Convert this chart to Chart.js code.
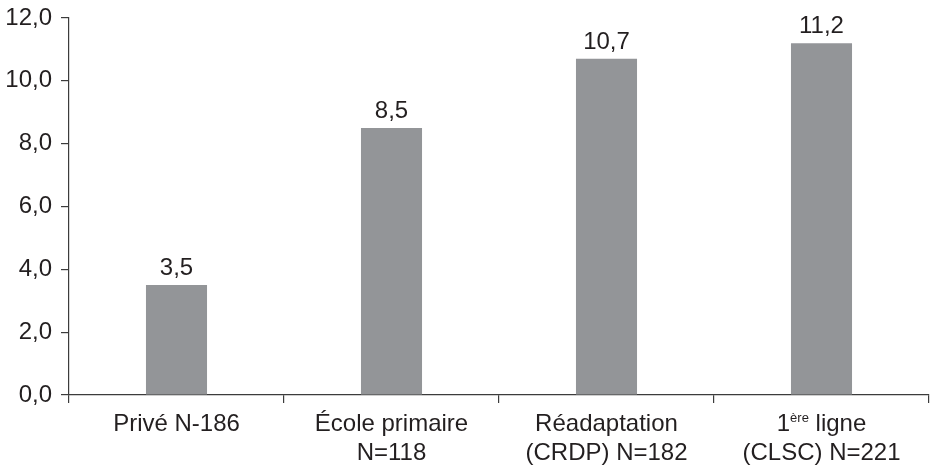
<!DOCTYPE html>
<html lang="fr">
<head>
    <meta charset="utf-8">
    <title>Chart</title>
    <script src="https://cdn.jsdelivr.net/npm/chart.js@4.4.1/dist/chart.umd.min.js"></script>
    <style>
        html, body { margin: 0; padding: 0; background: #fff; }
        #chart { display: block; }
    </style>
</head>
<body>
<canvas id="chart" width="930" height="466"></canvas>
<script>
    // categories (lines, ^{..} = superscript)
    const categories = [
        ['Privé N-186'],
        ['École primaire', 'N=118'],
        ['Réadaptation', '(CRDP) N=182'],
        ['1^{ère} ligne', '(CLSC) N=221']
    ];
    const values = [3.5, 8.5, 10.7, 11.2];
    const yTicks = [0, 2, 4, 6, 8, 10, 12];

    const textColor = '#231f20';
    const axisColor = '#3c3c3c';
    const barColor = '#939598';
    const fontFamily = '"Liberation Sans", Arial, sans-serif';

    function fmt(v) {
        return v.toFixed(1).replace('.', ',');
    }

    // draws one label line, handling ^{...} superscripts
    function drawLine(ctx, text, cx, baseline, size) {
        const parts = [];
        const re = /\^\{([^}]*)\}/g;
        let last = 0, m;
        while ((m = re.exec(text)) !== null) {
            if (m.index > last) parts.push({ t: text.slice(last, m.index), sup: false });
            parts.push({ t: m[1], sup: true });
            last = re.lastIndex;
        }
        if (last < text.length) parts.push({ t: text.slice(last), sup: false });

        const supSize = Math.round(size * 0.55);
        let total = 0;
        parts.forEach(p => {
            ctx.font = (p.sup ? supSize : size) + 'px ' + fontFamily;
            p.w = ctx.measureText(p.t).width;
            total += p.w;
        });
        let x = cx - total / 2;
        ctx.textAlign = 'left';
        ctx.textBaseline = 'alphabetic';
        parts.forEach(p => {
            ctx.font = (p.sup ? supSize : size) + 'px ' + fontFamily;
            ctx.fillText(p.t, x, p.sup ? baseline - size * 0.38 : baseline);
            x += p.w;
        });
    }

    const labelsPlugin = {
        id: 'labelsPlugin',
        afterDatasetsDraw(chart) {
            const ctx = chart.ctx;
            ctx.save();
            ctx.fillStyle = textColor;
            ctx.font = '24px ' + fontFamily;
            ctx.textAlign = 'center';
            ctx.textBaseline = 'alphabetic';
            chart.getDatasetMeta(0).data.forEach((bar, i) => {
                ctx.fillText(fmt(values[i]), bar.x, bar.y - 10);
            });

            const xScale = chart.scales.x;
            const top = xScale.top;
            categories.forEach((lines, i) => {
                const cx = xScale.getPixelForValue(i);
                lines.forEach((line, j) => {
                    drawLine(ctx, line, cx, top + 36 + j * 29, 24);
                });
            });
            ctx.restore();
        }
    };

    new Chart(document.getElementById('chart'), {
        type: 'bar',
        data: {
            labels: categories.map(c => c.join(' ')),
            datasets: [{
                data: values,
                backgroundColor: barColor,
                barPercentage: 0.284,
                categoryPercentage: 1.0
            }]
        },
        options: {
            responsive: false,
            animation: false,
            devicePixelRatio: 1,
            layout: { padding: { top: 18, right: 1, left: 0, bottom: 0 } },
            plugins: {
                legend: { display: false },
                tooltip: { enabled: false }
            },
            scales: {
                x: {
                    grid: {
                        offset: true,
                        drawOnChartArea: false,
                        drawTicks: true,
                        tickLength: 8,
                        color: axisColor,
                        lineWidth: 1.2
                    },
                    border: { color: axisColor, width: 1.2 },
                    ticks: { display: false },
                    afterFit(scale) {
                        scale.height = 71;
                        scale.paddingLeft = 0;
                        scale.paddingRight = 0;
                    }
                },
                y: {
                    min: 0,
                    max: 12,
                    afterBuildTicks(scale) {
                        scale.ticks = yTicks.map(v => ({ value: v }));
                    },
                    grid: {
                        drawOnChartArea: false,
                        drawTicks: true,
                        tickLength: 8,
                        color: axisColor,
                        lineWidth: 1.2
                    },
                    border: { color: axisColor, width: 1.2 },
                    ticks: {
                        color: textColor,
                        padding: 9,
                        font: { family: fontFamily, size: 24 },
                        callback: v => fmt(v)
                    },
                    afterFit(scale) {
                        scale.width = 69;
                        scale.paddingTop = 0;
                        scale.paddingBottom = 0;
                    }
                }
            }
        },
        plugins: [labelsPlugin]
    });
</script>
</body>
</html>
